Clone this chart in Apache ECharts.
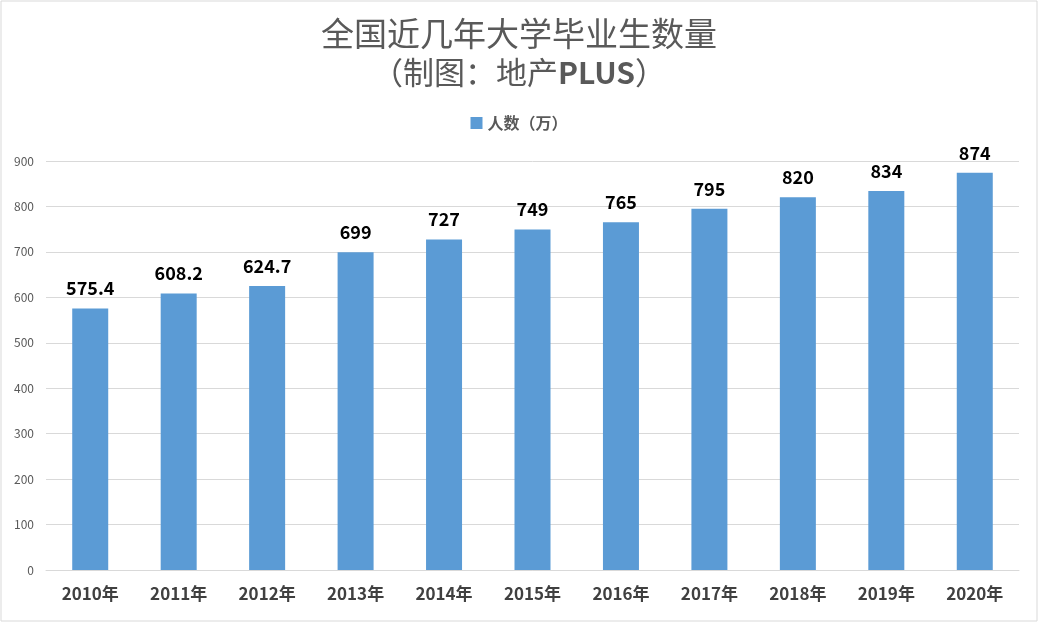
<!DOCTYPE html>
<html><head><meta charset="utf-8">
<script src="https://cdn.jsdelivr.net/npm/echarts@6/dist/echarts.min.js"></script>
<style>html,body{margin:0;padding:0;background:#fff}#c{width:1038px;height:622px}</style>
</head><body><div id="c"></div>
<script>
var categories = ['2010年','2011年','2012年','2013年','2014年','2015年','2016年','2017年','2018年','2019年','2020年'];
var values = [575.4, 608.2, 624.7, 699, 727, 749, 765, 795, 820, 834, 874];
var seriesName = '人数（万）';
var chart = echarts.init(document.getElementById('c'));
var font = '"Noto Sans CJK SC", "Microsoft YaHei", sans-serif';
chart.setOption({
  animation: false,
  graphic: [{type:'rect', shape:{x:1,y:1,width:1036,height:620}, style:{fill:'none', stroke:'#d9d9d9', lineWidth:1}}],
  title: [{
    text: '全国近几年大学毕业生数量',
    left: 'center', top: 12,
    textStyle: {fontFamily: font, fontSize: 33, fontWeight: 'normal', color: '#595959'}
  },{
    text: '{a|（制图：地产}{b|PLUS}{a|）}',
    left: 'center', top: 52,
    textStyle: {
      fontFamily: font, fontSize: 31, color: '#595959',
      rich: {
        a: {fontFamily: font, fontSize: 31, fontWeight: 'normal', color: '#595959'},
        b: {fontFamily: font, fontSize: 30, fontWeight: 'bold', color: '#595959'}
      }
    }
  }],
  legend: {
    top: 110, left: 'center', itemWidth: 12, itemHeight: 12, icon: 'rect',
    textStyle: {fontFamily: font, fontSize: 16, fontWeight: 'bold', color: '#595959'}
  },
  grid: {left: 46, right: 19, top: 161, bottom: 52, containLabel: false},
  xAxis: {
    type: 'category', data: categories,
    axisLine: {lineStyle: {color: '#d9d9d9'}},
    axisTick: {show: false},
    axisLabel: {fontFamily: font, fontSize: 17, fontWeight: 'bold', color: '#404040', margin: 15}
  },
  yAxis: {
    type: 'value', min: 0, max: 900, interval: 100,
    axisLine: {show: false}, axisTick: {show: false},
    splitLine: {lineStyle: {color: '#d9d9d9'}},
    axisLabel: {fontFamily: font, fontSize: 12, color: '#595959', margin: 12}
  },
  series: [{
    name: seriesName, type: 'bar', data: values, barWidth: 36,
    itemStyle: {color: '#5B9BD5'},
    label: {show: true, position: 'top', distance: 11, fontFamily: font, fontSize: 18, fontWeight: 'bold', color: '#000'}
  }]
});
</script></body></html>
